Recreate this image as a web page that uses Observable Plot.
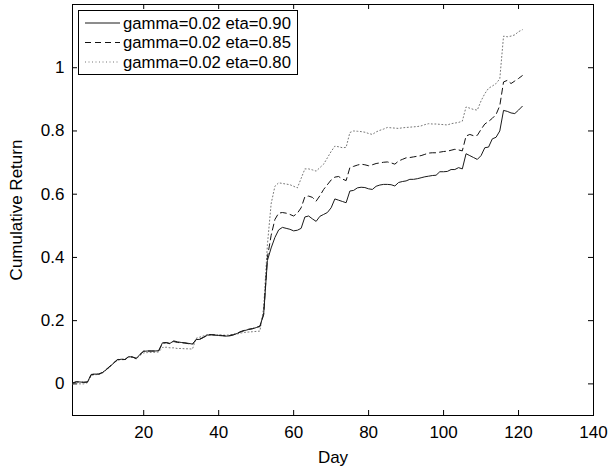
<!DOCTYPE html>
<html><head><meta charset="utf-8">
<script src="https://cdn.jsdelivr.net/npm/d3@7"></script>
<script src="https://cdn.jsdelivr.net/npm/@observablehq/plot@0.6"></script>
<style>body{margin:0;background:#fff;}</style>
</head><body><div id="chart"></div>
<script>
const seriesNames = ["gamma=0.02 eta=0.90", "gamma=0.02 eta=0.85", "gamma=0.02 eta=0.80"];
const days = d3.range(1, 122);
const eta090 = [0.003,0.007,0.006,0.005,0.006,0.030,0.031,0.031,0.036,0.045,
0.055,0.066,0.076,0.078,0.077,0.086,0.085,0.080,0.093,0.103,
0.104,0.104,0.104,0.105,0.130,0.131,0.128,0.136,0.133,0.131,
0.130,0.128,0.126,0.140,0.141,0.147,0.154,0.155,0.154,0.153,
0.152,0.151,0.152,0.155,0.160,0.165,0.169,0.172,0.174,0.178,
0.183,0.220,0.390,0.430,0.463,0.487,0.495,0.492,0.489,0.484,
0.486,0.492,0.528,0.531,0.522,0.514,0.530,0.536,0.542,0.557,
0.585,0.581,0.577,0.573,0.610,0.612,0.620,0.622,0.621,0.617,
0.615,0.625,0.629,0.631,0.631,0.630,0.626,0.637,0.640,0.642,
0.647,0.647,0.649,0.652,0.655,0.657,0.659,0.660,0.671,0.671,
0.672,0.678,0.678,0.684,0.680,0.728,0.722,0.716,0.710,0.722,
0.747,0.749,0.775,0.780,0.800,0.865,0.862,0.857,0.855,0.866,
0.878];
const eta085 = [0.002,0.006,0.006,0.005,0.006,0.029,0.031,0.031,0.036,0.046,
0.056,0.067,0.077,0.078,0.077,0.087,0.085,0.081,0.093,0.104,
0.104,0.104,0.104,0.105,0.128,0.130,0.127,0.134,0.131,0.130,
0.129,0.127,0.125,0.141,0.142,0.148,0.155,0.156,0.155,0.154,
0.153,0.152,0.153,0.156,0.161,0.166,0.170,0.173,0.175,0.179,
0.181,0.220,0.400,0.470,0.520,0.540,0.542,0.540,0.536,0.531,
0.540,0.557,0.592,0.594,0.590,0.578,0.595,0.615,0.630,0.645,
0.654,0.656,0.648,0.643,0.684,0.688,0.692,0.695,0.693,0.690,
0.693,0.697,0.699,0.701,0.702,0.699,0.695,0.705,0.710,0.715,
0.716,0.718,0.720,0.722,0.726,0.730,0.731,0.731,0.733,0.735,
0.736,0.739,0.742,0.740,0.737,0.784,0.789,0.785,0.786,0.805,
0.822,0.830,0.840,0.852,0.880,0.955,0.960,0.950,0.958,0.966,
0.975];
const eta080 = [0.000,0.001,0.000,0.000,0.004,0.027,0.029,0.030,0.034,0.044,
0.054,0.065,0.075,0.077,0.076,0.085,0.084,0.079,0.090,0.098,
0.099,0.100,0.100,0.101,0.115,0.116,0.114,0.114,0.112,0.112,
0.111,0.111,0.110,0.144,0.148,0.152,0.156,0.156,0.155,0.155,
0.154,0.154,0.155,0.157,0.158,0.161,0.163,0.164,0.165,0.166,
0.167,0.240,0.440,0.570,0.625,0.636,0.634,0.632,0.630,0.625,
0.620,0.650,0.680,0.680,0.677,0.673,0.684,0.695,0.715,0.735,
0.752,0.750,0.747,0.748,0.795,0.800,0.799,0.798,0.796,0.792,
0.789,0.797,0.802,0.806,0.811,0.810,0.809,0.808,0.810,0.811,
0.812,0.813,0.814,0.816,0.820,0.823,0.822,0.822,0.821,0.820,
0.819,0.823,0.825,0.827,0.831,0.876,0.872,0.868,0.866,0.895,
0.918,0.935,0.942,0.950,0.965,1.100,1.098,1.100,1.104,1.114,
1.120];
const xTicks = [20, 40, 60, 80, 100, 120, 140];
const yTicks = [0, 0.2, 0.4, 0.6, 0.8, 1];
const yTickLabels = ["0", "0.2", "0.4", "0.6", "0.8", "1"];

const FONT = "Liberation Sans";
const FS = 17;
const lineStyles = [
  {stroke: "#1a1a1a", dash: null},
  {stroke: "#111111", dash: "6,4"},
  {stroke: "#777777", dash: "1,2.5"}
];
const allSeries = [eta090, eta085, eta080];
const rowsFor = k => allSeries[k].map((v, i) => ({day: days[i], value: v, series: seriesNames[k]}));

const plot = Plot.plot({
  width: 610, height: 473,
  marginLeft: 72, marginRight: 17, marginTop: 4, marginBottom: 58,
  style: {fontFamily: FONT, fontSize: FS + "px", background: "#fff", color: "#000"},
  x: {domain: [1, 140]},
  y: {domain: [-0.1, 1.2]},
  marks: [
    Plot.frame({stroke: "#000"}),
    // inward ticks on all four sides
    Plot.tickX(xTicks, {x: d => d, insetTop: 406, stroke: "#000"}),
    Plot.tickX(xTicks, {x: d => d, insetBottom: 406, stroke: "#000"}),
    Plot.tickY(yTicks, {y: d => d, insetRight: 516, stroke: "#000"}),
    Plot.tickY(yTicks, {y: d => d, insetLeft: 516, stroke: "#000"}),
    // tick labels
    Plot.axisX({ticks: xTicks, tickSize: 0, tickPadding: 10, fontSize: FS, label: null}),
    Plot.axisY({ticks: yTicks, tickSize: 0, tickPadding: 8, fontSize: FS, tickFormat: d => yTickLabels[yTicks.indexOf(d)], label: null}),
    ...[2, 1, 0].map(k => Plot.line(rowsFor(k), {
      x: "day", y: "value",
      stroke: lineStyles[k].stroke,
      strokeDasharray: lineStyles[k].dash,
      strokeWidth: 1
    })),
    Plot.text(["Day"], {text: d => d, frameAnchor: "bottom", dy: 47, fontSize: FS, textAnchor: "middle"}),
    Plot.text(["Cumulative Return"], {text: d => d, frameAnchor: "left", dx: -56, rotate: -90, fontSize: FS, textAnchor: "middle"})
  ]
});
document.getElementById("chart").appendChild(plot);

// legend box (upper-left, MATLAB style)
const svg = d3.select(plot);
const lg = svg.append("g");
lg.append("rect").attr("x", 78.5).attr("y", 10.5).attr("width", 219).attr("height", 64)
  .attr("fill", "#fff").attr("stroke", "#000");
seriesNames.forEach((name, k) => {
  const cy = 23 + k * 19.5;
  lg.append("line").attr("x1", 85).attr("x2", 120).attr("y1", cy).attr("y2", cy)
    .attr("stroke", lineStyles[k].stroke).attr("stroke-dasharray", lineStyles[k].dash);
  lg.append("text").attr("x", 123).attr("y", cy).attr("dy", "0.35em")
    .attr("font-family", FONT).attr("font-size", "16.7px").attr("text-anchor", "start").text(name);
});
// force text layout so the installed face is resolved before the picture is taken
svg.selectAll("text").each(function() { this.getComputedTextLength(); });
</script>
</body></html>
